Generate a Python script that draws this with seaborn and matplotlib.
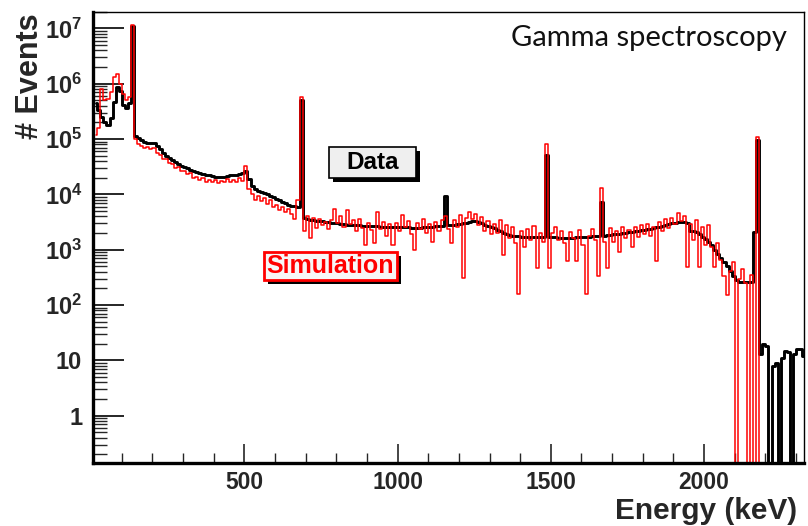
import numpy as np
import pandas as pd
import matplotlib
matplotlib.use("Agg")
import matplotlib.pyplot as plt
from matplotlib.patches import Rectangle
from matplotlib.ticker import FixedLocator, FuncFormatter, LogLocator, NullFormatter
import seaborn as sns

# ---------------- data (10 keV bins, centres 15 ... 2325 keV) ----------------
bin_start = 15
bin_width = 10

data_counts = [
    4.5e5, 3.4e5, 2.5e5, 2.0e5, 1.8e5, 2.4e5, 4.6e5, 8.8e5, 7.5e5, 4.2e5,
    3.6e5, 4.4e5, 1.1e7, 1.15e5, 1.05e5, 9.6e4, 9.0e4, 8.6e4, 8.5e4, 8.4e4,
    7.6e4, 6.5e4, 5.6e4, 4.9e4, 4.5e4, 4.1e4, 3.8e4, 3.5e4, 3.3e4, 3.1e4,
    2.95e4, 2.8e4, 2.65e4, 2.5e4, 2.4e4, 2.3e4, 2.25e4, 2.2e4, 2.15e4, 2.1e4,
    2.1e4, 2.1e4, 2.1e4, 2.15e4, 2.2e4, 2.2e4, 2.25e4, 2.3e4, 2.4e4, 2.6e4,
    1.9e4, 1.4e4, 1.25e4, 1.15e4, 1.1e4, 1.05e4, 1.0e4, 9.5e3, 9.0e3, 8.4e3,
    7.8e3, 7.3e3, 6.9e3, 6.5e3, 6.3e3, 6.1e3, 6.0e3, 5.0e5, 3.8e3, 3.6e3,
    3.5e3, 3.4e3, 3.35e3, 3.3e3, 3.25e3, 3.2e3, 3.15e3, 3.1e3, 3.05e3, 3.0e3,
    2.95e3, 2.9e3, 2.85e3, 2.8e3, 2.8e3, 2.75e3, 2.75e3, 2.7e3, 2.7e3, 2.7e3,
    2.7e3, 2.65e3, 2.65e3, 2.6e3, 2.6e3, 2.6e3, 2.6e3, 2.6e3, 2.55e3, 2.55e3,
    2.55e3, 2.55e3, 2.55e3, 2.5e3, 2.5e3, 2.5e3, 2.5e3, 2.55e3, 2.55e3, 2.6e3,
    2.6e3, 2.65e3, 2.7e3, 2.7e3, 9.5e3, 2.8e3, 2.8e3, 2.85e3, 2.9e3, 2.95e3,
    3.0e3, 3.1e3, 3.2e3, 3.25e3, 3.3e3, 3.2e3, 3.0e3, 2.85e3, 2.7e3, 2.6e3,
    2.45e3, 2.3e3, 2.15e3, 2.0e3, 1.9e3, 1.85e3, 1.8e3, 1.75e3, 1.75e3, 1.7e3,
    1.7e3, 1.7e3, 1.7e3, 1.7e3, 1.7e3, 1.7e3, 1.7e3, 5.1e4, 1.7e3, 1.7e3,
    1.68e3, 1.66e3, 1.65e3, 1.65e3, 1.65e3, 1.65e3, 1.66e3, 1.68e3, 1.7e3, 1.7e3,
    1.7e3, 1.72e3, 1.75e3, 1.75e3, 1.8e3, 7.4e3, 1.8e3, 1.85e3, 1.85e3, 1.9e3,
    1.9e3, 1.95e3, 2.0e3, 2.0e3, 2.05e3, 2.1e3, 2.15e3, 2.2e3, 2.25e3, 2.3e3,
    2.35e3, 2.4e3, 2.45e3, 2.55e3, 2.6e3, 2.7e3, 2.8e3, 2.9e3, 3.0e3, 3.1e3,
    3.15e3, 3.2e3, 3.2e3, 3.1e3, 2.2e3, 2.15e3, 2.05e3, 1.9e3, 1.7e3, 1.55e3,
    1.4e3, 1.2e3, 1.0e3, 850, 720, 600, 500, 420, 330, 280,
    265, 260, 260, 260, 260, 2100, 9.5e4, 13, 20, 18,
    0, 8, 9, 0, 11, 15, 14, 0, 13, 16,
    16, 12,
]

sim_counts = [
    1.2e5, 1.6e5, 8.0e5, 5.0e5, 5.2e5, 7.0e5, 1.3e6, 1.5e6, 1.0e6, 6.5e5,
    5.0e5, 5.8e5, 1.15e7, 1.0e5, 8.2e4, 7.6e4, 6.9e4, 7.3e4, 6.5e4, 6.8e4,
    5.6e4, 5.1e4, 4.4e4, 4.3e4, 3.7e4, 3.5e4, 3.0e4, 3.1e4, 2.6e4, 2.7e4,
    2.3e4, 2.4e4, 2.0e4, 2.1e4, 1.8e4, 1.95e4, 1.7e4, 1.85e4, 1.65e4, 1.8e4,
    1.6e4, 1.75e4, 1.7e4, 1.9e4, 1.65e4, 1.85e4, 1.7e4, 2.0e4, 1.75e4, 3.2e4,
    1.25e4, 1.0e4, 8.0e3, 9.5e3, 7.5e3, 8.5e3, 6.8e3, 7.8e3, 6.0e3, 6.5e3,
    5.2e3, 6.0e3, 4.8e3, 5.5e3, 4.5e3, 3.6e3, 8.0e3, 5.8e5, 2.2e3, 4.0e3,
    1.6e3, 3.8e3, 2.5e3, 3.6e3, 2.8e3, 3.2e3, 2.4e3, 3.5e3, 5.4e3, 3.0e3,
    4.0e3, 2.6e3, 5.2e3, 2.9e3, 3.4e3, 2.2e3, 3.6e3, 2.5e3, 1.2e3, 3.0e3,
    2.3e3, 1.3e3, 4.8e3, 2.4e3, 3.2e3, 1.8e3, 2.9e3, 1.2e3, 3.1e3, 2.2e3,
    4.3e3, 2.6e3, 3.3e3, 1.9e3, 1.0e3, 3.0e3, 2.4e3, 3.6e3, 2.0e3, 2.9e3,
    1.4e3, 3.2e3, 2.2e3, 3.5e3, 4.0e3, 2.4e3, 1.3e3, 3.4e3, 2.6e3, 4.2e3,
    315, 3.8e3, 4.9e3, 3.6e3, 4.4e3, 2.8e3, 3.9e3, 2.2e3, 3.3e3, 1.9e3,
    2.9e3, 2.0e3, 3.4e3, 800, 2.8e3, 1.6e3, 2.6e3, 1.3e3, 160, 2.2e3,
    1.1e3, 2.4e3, 1.5e3, 2.7e3, 460, 2.0e3, 1.4e3, 8.1e4, 460, 2.0e3,
    2.6e3, 1.5e3, 2.2e3, 1.3e3, 620, 2.1e3, 1.6e3, 620, 2.3e3, 1.2e3,
    160, 1.8e3, 2.4e3, 1.5e3, 330, 1.3e4, 1.4e3, 460, 2.5e3, 1.4e3,
    2.2e3, 900, 2.6e3, 1.6e3, 2.3e3, 1.1e3, 2.6e3, 1.7e3, 2.8e3, 1.9e3,
    2.9e3, 1.8e3, 2.6e3, 620, 3.2e3, 2.2e3, 3.6e3, 2.5e3, 3.8e3, 2.9e3,
    4.7e3, 3.3e3, 4.1e3, 480, 2.9e3, 1.5e3, 3.4e3, 480, 2.6e3, 1.2e3,
    2.8e3, 1.1e3, 480, 1.3e3, 650, 330, 150, 420, 600, 0,
    300, 450, 250, 0, 350, 0, 1.1e5, 0, 0, 0,
    0, 0, 0, 0, 0, 0, 0, 0, 0, 0,
    0, 0,
]

x_major = [500, 1000, 1500, 2000]
y_major = [1, 10, 1e2, 1e3, 1e4, 1e5, 1e6, 1e7]
y_labels = {1: "1", 10: "10", 1e2: "$10^{2}$", 1e3: "$10^{3}$", 1e4: "$10^{4}$",
            1e5: "$10^{5}$", 1e6: "$10^{6}$", 1e7: "$10^{7}$"}

energy = bin_start + bin_width * np.arange(len(data_counts))
df_data = pd.DataFrame({"Energy": energy, "Counts": data_counts})
df_sim = pd.DataFrame({"Energy": energy, "Counts": sim_counts})

# ---------------- style ----------------
sns.set_style("white")
plt.rcParams["font.family"] = ["Liberation Sans", "DejaVu Sans"]
plt.rcParams["font.weight"] = "bold"
plt.rcParams["mathtext.fontset"] = "custom"
plt.rcParams["mathtext.rm"] = "Liberation Sans:bold"
plt.rcParams["mathtext.bf"] = "Liberation Sans:bold"
plt.rcParams["mathtext.it"] = "Liberation Sans:bold"

W, H = 808, 526
fig = plt.figure(figsize=(W / 100, H / 100), dpi=100)
ax = fig.add_axes([93.3 / W, 1 - 462.7 / H, (804.3 - 93.3) / W, (462.7 - 11.7) / H])

sns.lineplot(data=df_data, x="Energy", y="Counts", ax=ax, color="black",
             linewidth=2.1, drawstyle="steps-mid", estimator=None, sort=True)
sns.lineplot(data=df_sim, x="Energy", y="Counts", ax=ax, color="#ff0000",
             linewidth=1.1, drawstyle="steps-mid", estimator=None, sort=True)

ax.set_yscale("log", nonpositive="clip")
ax.set_xlim(7, 2327)
ax.set_ylim(0.142, 2.0e7)
ax.set_xlabel("")
ax.set_ylabel("")

ax.xaxis.set_major_locator(FixedLocator(x_major))
ax.xaxis.set_minor_locator(FixedLocator(np.arange(100, 2400, 100)))
ax.yaxis.set_major_locator(FixedLocator(y_major))
ax.yaxis.set_minor_locator(LogLocator(base=10, subs=np.arange(2, 10), numticks=30))
ax.yaxis.set_minor_formatter(NullFormatter())
ax.yaxis.set_major_formatter(FuncFormatter(lambda v, p: y_labels.get(v, "")))
ax.xaxis.set_major_formatter(FuncFormatter(lambda v, p: f"{int(v)}"))

ax.tick_params(axis="y", which="major", direction="in", length=22, width=1.4,
               left=True, right=False, pad=8, labelsize=17)
ax.tick_params(axis="y", which="minor", direction="in", length=10, width=1.0,
               left=True, right=False)
ax.tick_params(axis="x", which="major", direction="in", length=14, width=1.2,
               bottom=True, top=False, pad=6, labelsize=16.5)
ax.tick_params(axis="x", which="minor", direction="in", length=7, width=1.0,
               bottom=True, top=False)
for lab in ax.get_xticklabels() + ax.get_yticklabels():
    lab.set_fontweight("bold")

for side in ["left", "bottom"]:
    ax.spines[side].set_linewidth(2.4)
    ax.spines[side].set_color("black")
for side in ["top", "right"]:
    ax.spines[side].set_linewidth(1.0)
    ax.spines[side].set_color("black")
ax.grid(False)

# ---------------- texts ----------------
fig.text(797 / W, 1 - 525 / H, "Energy (keV)", ha="right", va="bottom",
         fontsize=21.5, fontweight="bold")
fig.text(30 / W, 1 - 13 / H, "# Events", ha="center", va="top", rotation=90,
         fontsize=22, fontweight="bold")
fig.text(787 / W, 1 - 38 / H, "Gamma spectroscopy", ha="right", va="center",
         fontsize=21, fontweight="normal", color="#111111",
         family=["Lato", "DejaVu Sans"])


def box(x0, y0, x1, y1, text, tcolor, ecolor, fcolor, elw, fs):
    sh = 4
    fig.add_artist(Rectangle(((x0 + sh) / W, 1 - (y1 + sh) / H), (x1 - x0) / W,
                             (y1 - y0) / H, transform=fig.transFigure,
                             facecolor="black", edgecolor="none", zorder=5))
    fig.add_artist(Rectangle((x0 / W, 1 - y1 / H), (x1 - x0) / W, (y1 - y0) / H,
                             transform=fig.transFigure, facecolor=fcolor,
                             edgecolor=ecolor, linewidth=elw, zorder=6))
    fig.text((x0 + x1) / 2 / W, 1 - (y0 + y1) / 2 / H, text, ha="center",
             va="center", fontsize=fs, fontweight="bold", color=tcolor, zorder=7)


box(329, 147, 416, 178, "Data", "black", "black", "#efefef", 1.2, 17.5)
box(264, 252, 397, 280, "Simulation", "#ff0000", "#ff0000", "#f7f7f7", 2.0, 18)

fig.savefig("out.png", dpi=100)
